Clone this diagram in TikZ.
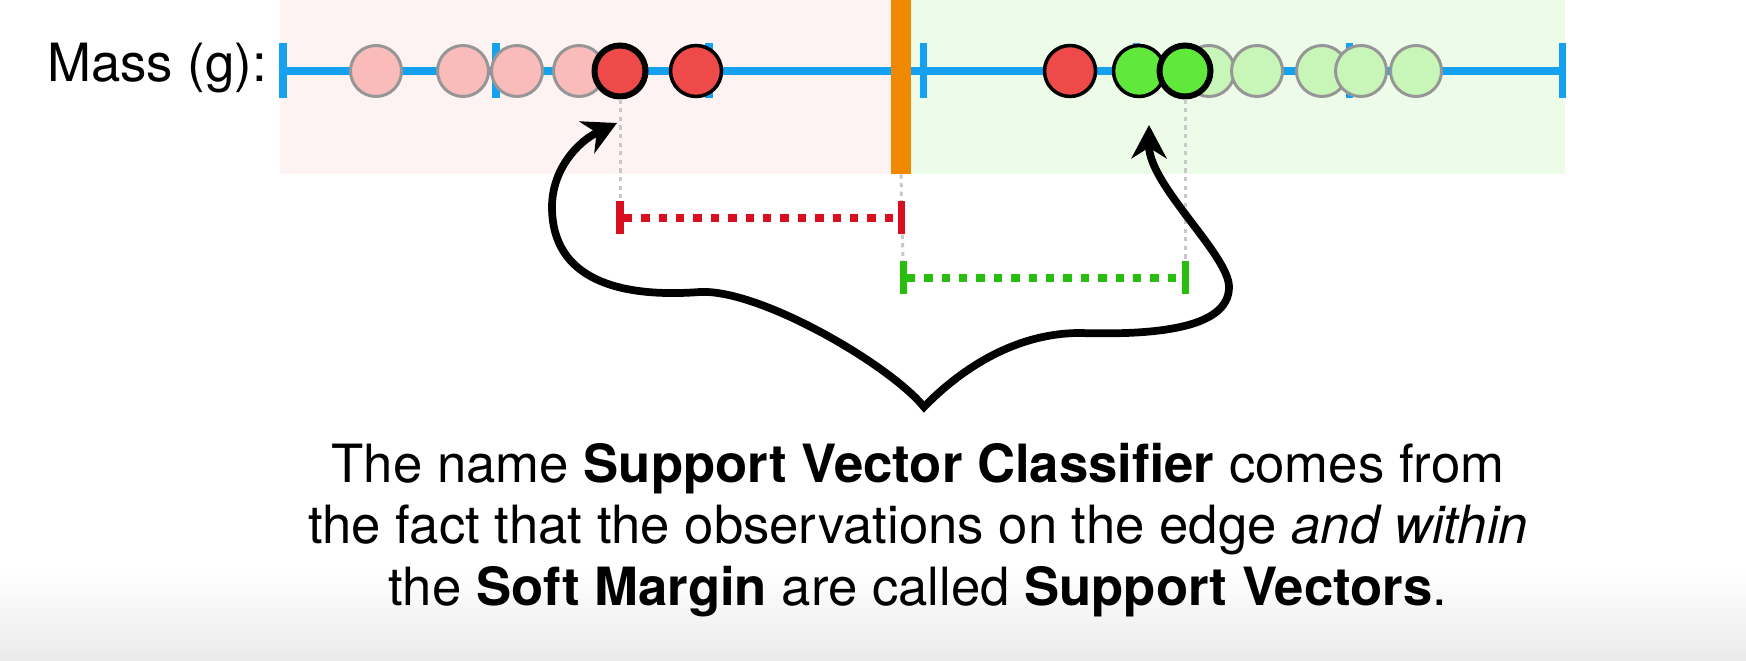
\documentclass[tikz,border=0pt]{standalone}
\usepackage{fontspec}
\setmainfont{TeX Gyre Heros}
\usetikzlibrary{arrows.meta}

\definecolor{axisblue}{RGB}{20,162,240}
\definecolor{barorange}{RGB}{240,136,0}
\definecolor{pinkbg}{RGB}{253,243,243}
\definecolor{greenbg}{RGB}{237,252,233}
\definecolor{pinkfill}{RGB}{250,187,187}
\definecolor{palegreen}{RGB}{200,246,185}
\definecolor{redfill}{RGB}{238,74,74}
\definecolor{greenfill}{RGB}{96,232,58}
\definecolor{ringgray}{RGB}{150,150,150}
\definecolor{dimred}{RGB}{215,15,30}
\definecolor{dimgreen}{RGB}{40,190,15}
\definecolor{guidegray}{RGB}{200,200,200}

\begin{document}
\begin{tikzpicture}[x=0.02cm, y=-0.02cm, font=\fontsize{30}{35}\selectfont,
    axistick/.style={axisblue, line width=4pt},
    obs/.style={circle, minimum size=1.02cm, inner sep=0, line width=1.7pt},
    fadedred/.style={obs, draw=ringgray, fill=pinkfill},
    fadedgreen/.style={obs, draw=ringgray, fill=palegreen},
    redobs/.style={obs, draw=black, line width=2pt, fill=redfill},
    greenobs/.style={obs, draw=black, line width=2pt, fill=greenfill},
    support/.style={line width=3.4pt},
    endtick/.style={rectangle, inner sep=0, minimum width=4pt, minimum height=0.66cm},
    guide/.style={guidegray, line width=1.7pt, dash pattern=on 2.4pt off 2.5pt},
    dims/.style={line width=4.8pt, dash pattern=on 4.8pt off 5.1pt},
    brace/.style={line width=4.4pt, {Stealth[length=19pt, width=20pt]}-{Stealth[length=19pt, width=20pt]}}]

  % frame and backgrounds
  \useasboundingbox (0,0) rectangle (1746,661);
  \fill[white] (0,0) rectangle (1746,661);
  \shade[top color=white, bottom color=black!8] (0,570) rectangle (1746,661);
  \fill[pinkbg]  (280,0) rectangle (891,174);
  \fill[greenbg] (911,0) rectangle (1565,174);

  \node[anchor=base west, inner sep=0] (mass) at (47,82) {Mass (g):};

  % number line
  \draw[axisblue, line width=4.5pt] (283,71) -- (1562,71);
  \draw[axistick] (283,43)  -- (283,98);
  \draw[axistick] (496,43)  -- (496,98);
  \draw[axistick] (709,43)  -- (709,98);
  \draw[axistick] (923,43)  -- (923,98);
  \draw[axistick] (1136,43) -- (1136,98);
  \draw[axistick] (1349,43) -- (1349,98);
  \draw[axistick] (1562,43) -- (1562,98);

  \node[fill=barorange, inner sep=0, minimum width=0.4cm, minimum height=3.48cm] (thr) at (901,87) {};

  % observations
  \node[fadedred]   (p1)  at (376,71)  {};
  \node[fadedred]   (p2)  at (463,71)  {};
  \node[fadedred]   (p3)  at (517,71)  {};
  \node[fadedred]   (p4)  at (579,71)  {};
  \node[redobs, support] (sv1) at (620,71) {};
  \node[redobs]     (r2)  at (696,71)  {};

  \node[fadedgreen] (q1)  at (1209,71) {};
  \node[fadedgreen] (q2)  at (1257,71) {};
  \node[fadedgreen] (q3)  at (1322,71) {};
  \node[fadedgreen] (q4)  at (1361,71) {};
  \node[fadedgreen] (q5)  at (1416,71) {};
  \node[redobs]     (r3)  at (1070,71) {};
  \node[greenobs]   (g1)  at (1139,71) {};
  \node[greenobs, support] (sv2) at (1185,71) {};

  % margins
  \node[endtick, fill=dimred]   (rL) at (620,218)  {};
  \node[endtick, fill=dimred]   (rR) at (901,218)  {};
  \node[endtick, fill=dimgreen] (gL) at (903,278)  {};
  \node[endtick, fill=dimgreen] (gR) at (1185,278) {};

  \draw[guide] (sv1.south) -- (rL.north);
  \draw[guide] (thr.south) -- (gL.north);
  \draw[guide] (sv2.south) -- (gR.north);

  \node[endtick, fill=dimred]   at (rR) {};

  \draw[dims, dimred]   (rL) -- (rR);
  \draw[dims, dimgreen] (gL) -- (gR);

  % pointer
  \coordinate (tipL) at (617,123);
  \coordinate (cusp) at (924,407);
  \coordinate (tipR) at (1149,125);
  \draw[brace] (tipL) .. controls (577,142) and (552,170) .. (552,207)
    .. controls (552,280) and (620,298) .. (700,292)
    .. controls (760,289) and (890,365) .. (cusp)
    .. controls (955,375) and (1010,333) .. (1080,333)
    .. controls (1150,335) and (1229,330) .. (1229,287)
    .. controls (1229,255) and (1149,185) .. (tipR);

  \node[align=center, anchor=base, inner sep=0] (caption) at (918,605)
    {The name \textbf{Support Vector Classifier} comes from\\
     the fact that the observations on the edge \textit{and within}\\
     the \textbf{Soft Margin} are called \textbf{Support Vectors}.};
\end{tikzpicture}
\end{document}
